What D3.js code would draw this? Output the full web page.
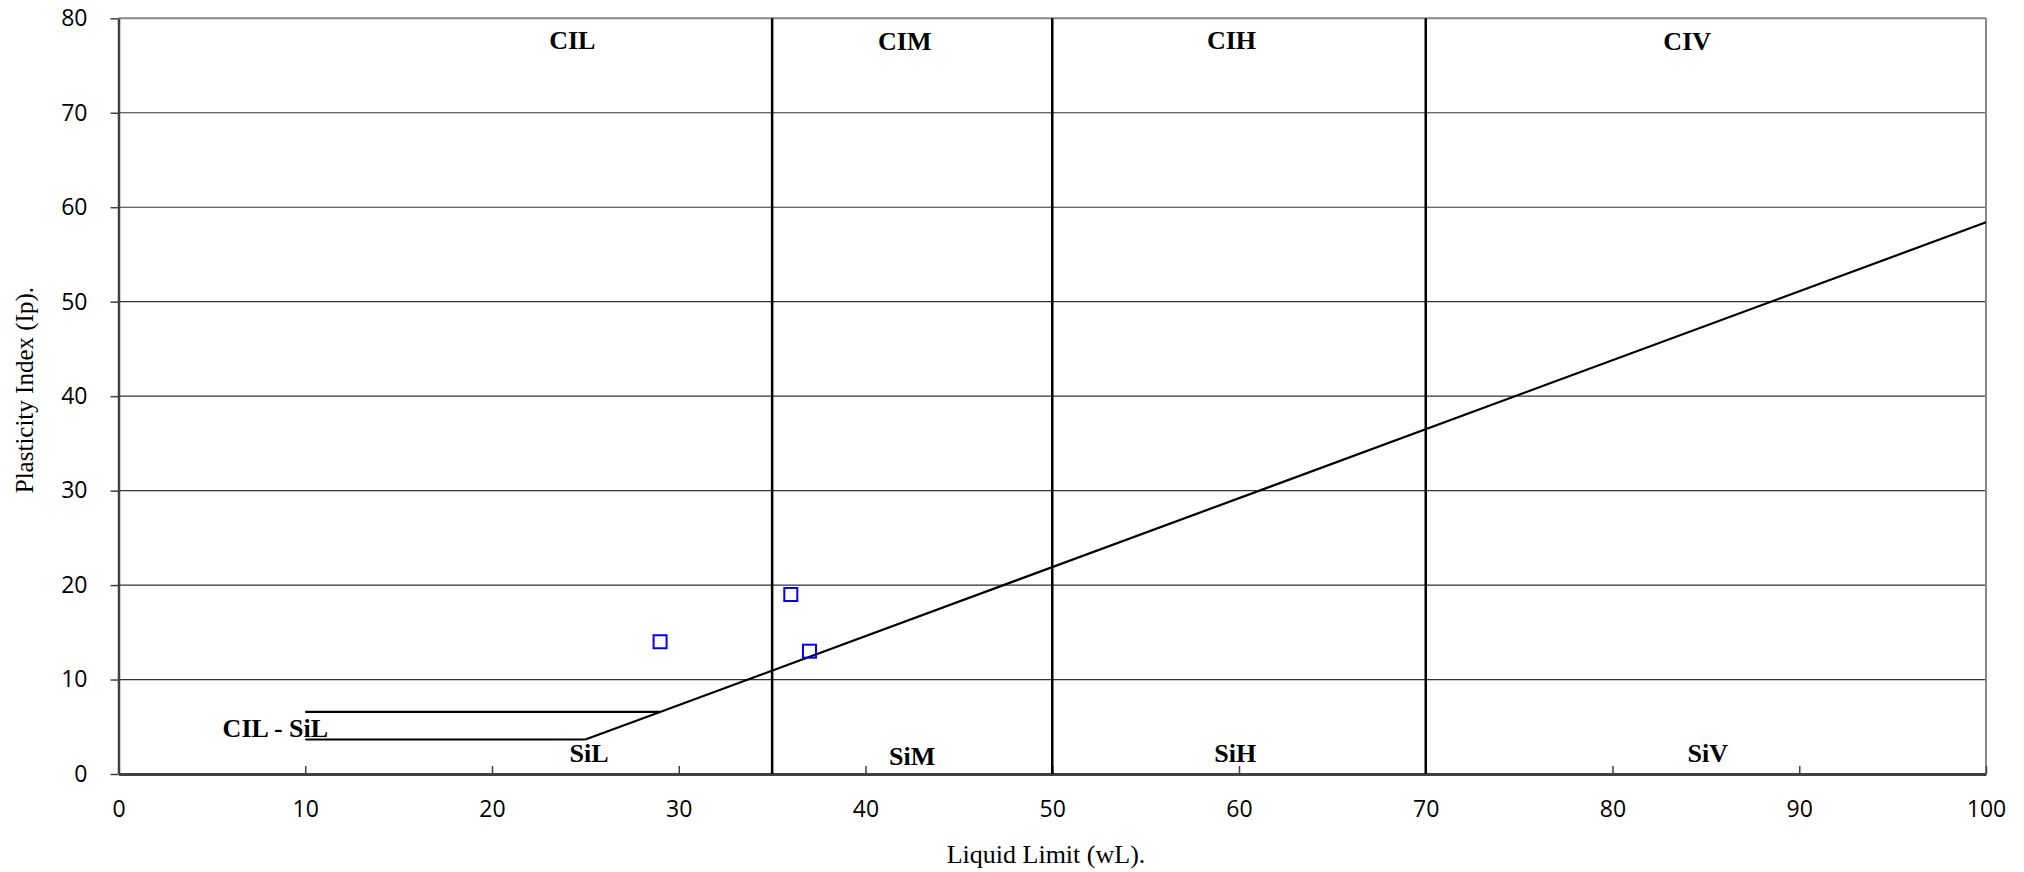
<!DOCTYPE html>
<html>
<head>
<meta charset="utf-8">
<script src="https://cdn.jsdelivr.net/npm/d3@7"></script>
<style>
  body { margin: 0; background: #fff; }
  svg { display: block; }
</style>
</head>
<body>
<div id="chart"></div>
<script>
// plasticity chart values
var xTickValues = [0, 10, 20, 30, 40, 50, 60, 70, 80, 90, 100];
var yTickValues = [0, 10, 20, 30, 40, 50, 60, 70, 80];
var zoneBounds = [35, 50, 70];
var samples = [
    { wl: 29, ip: 14 },
    { wl: 36, ip: 19 },
    { wl: 37, ip: 13 }
];
var aLine = [[25, 3.65], [29, 6.57], [100, 58.4]];
var upperBand = [[10, 6.57], [29, 6.57]];
var lowerBand = [[10, 3.65], [25, 3.65]];
var topLabels = [
    { text: "CIL", wl: 24.3, ip: 76.8 },
    { text: "CIM", wl: 42.1, ip: 76.6 },
    { text: "CIH", wl: 59.6, ip: 76.8 },
    { text: "CIV", wl: 84.0, ip: 76.6 }
];
var bottomLabels = [
    { text: "CIL - SiL", wl: 8.4, ip: 3.9 },
    { text: "SiL", wl: 25.2, ip: 1.3 },
    { text: "SiM", wl: 42.5, ip: 1.0 },
    { text: "SiH", wl: 59.8, ip: 1.3 },
    { text: "SiV", wl: 85.1, ip: 1.3 }
];

var W = 2024, H = 872;
var plotL = 118.5, plotR = 1986, plotT = 18.3, plotB = 774;

var svg = d3.select('#chart').append('svg')
    .attr('width', W)
    .attr('height', H);

var x = d3.scaleLinear().domain([0, 100]).range([plotL, plotR]);
var y = d3.scaleLinear().domain([0, 80]).range([plotB, plotT]);

// grid
svg.append('g').selectAll('line')
    .data(yTickValues.filter(function (d) { return d > 0 && d < 80; }))
    .enter().append('line')
    .attr('x1', plotL).attr('x2', plotR)
    .attr('y1', function (d) { return y(d); })
    .attr('y2', function (d) { return y(d); })
    .attr('stroke', '#333')
    .attr('stroke-width', 1.2);

// top + right border
svg.append('line').attr('x1', plotL).attr('x2', plotR).attr('y1', plotT).attr('y2', plotT)
    .attr('stroke', '#888').attr('stroke-width', 2);
svg.append('line').attr('x1', plotR).attr('x2', plotR).attr('y1', plotT).attr('y2', plotB)
    .attr('stroke', '#888').attr('stroke-width', 2);

// axes
var yAxis = d3.axisLeft(y).tickValues(yTickValues).tickSize(8).tickSizeOuter(0);
var gy = svg.append('g').attr('transform', 'translate(' + plotL + ',0)').call(yAxis);
gy.select('.domain').attr('stroke', '#404040').attr('stroke-width', 2.5);
gy.selectAll('.tick line').attr('stroke', '#404040').attr('stroke-width', 1.5);
gy.selectAll('.tick text')
    .attr('x', -31)
    .style('font-family', '"Open Sans", sans-serif')
    .style('font-size', '23px')
    .attr('fill', '#000');

var xAxis = d3.axisBottom(x).tickValues(xTickValues).tickSize(-8).tickSizeOuter(0);
var gx = svg.append('g').attr('transform', 'translate(0,' + plotB + ')').call(xAxis);
gx.select('.domain').attr('stroke', '#404040').attr('stroke-width', 3);
gx.selectAll('.tick line').attr('stroke', '#404040').attr('stroke-width', 1.5);
gx.selectAll('.tick text')
    .attr('dy', null)
    .attr('y', 43)
    .style('font-family', '"Open Sans", sans-serif')
    .style('font-size', '23px')
    .attr('fill', '#000');
svg.selectAll('.domain').attr('fill', 'none');

// zone boundaries
svg.append('g').selectAll('line')
    .data(zoneBounds)
    .enter().append('line')
    .attr('x1', function (d) { return x(d); })
    .attr('x2', function (d) { return x(d); })
    .attr('y1', y(0)).attr('y2', y(80))
    .attr('stroke', '#000')
    .attr('stroke-width', 2.5);

// A-line and band
var line = d3.line()
    .x(function (d) { return x(d[0]); })
    .y(function (d) { return y(d[1]); });

[aLine, upperBand, lowerBand].forEach(function (pts) {
    svg.append('path')
        .attr('d', line(pts))
        .attr('fill', 'none')
        .attr('stroke', '#000')
        .attr('stroke-width', 2.2);
});

// samples
svg.append('g').selectAll('rect')
    .data(samples)
    .enter().append('rect')
    .attr('x', function (d) { return x(d.wl) - 6.5; })
    .attr('y', function (d) { return y(d.ip) - 6.5; })
    .attr('width', 13).attr('height', 13)
    .attr('fill', 'none')
    .attr('stroke', '#0000ff')
    .attr('stroke-width', 2);

// zone labels
svg.append('g').selectAll('text')
    .data(topLabels.concat(bottomLabels))
    .enter().append('text')
    .attr('x', function (d) { return x(d.wl); })
    .attr('y', function (d) { return y(d.ip); })
    .attr('text-anchor', 'middle')
    .style('font-family', '"Liberation Serif", "Times New Roman", serif')
    .style('font-weight', 'bold')
    .style('font-size', '26px')
    .text(function (d) { return d.text; });

// axis titles
svg.append('text')
    .attr('x', 1046).attr('y', 863)
    .attr('text-anchor', 'middle')
    .style('font-family', '"Liberation Serif", "Times New Roman", serif')
    .style('font-size', '26px')
    .text('Liquid Limit (wL).');

svg.append('text')
    .attr('transform', 'translate(33,' + ((plotT + plotB) / 2 - 6) + ') rotate(-90)')
    .attr('text-anchor', 'middle')
    .style('font-family', '"Liberation Serif", "Times New Roman", serif')
    .style('font-size', '25px')
    .text('Plasticity Index (Ip).');
</script>
</body>
</html>
